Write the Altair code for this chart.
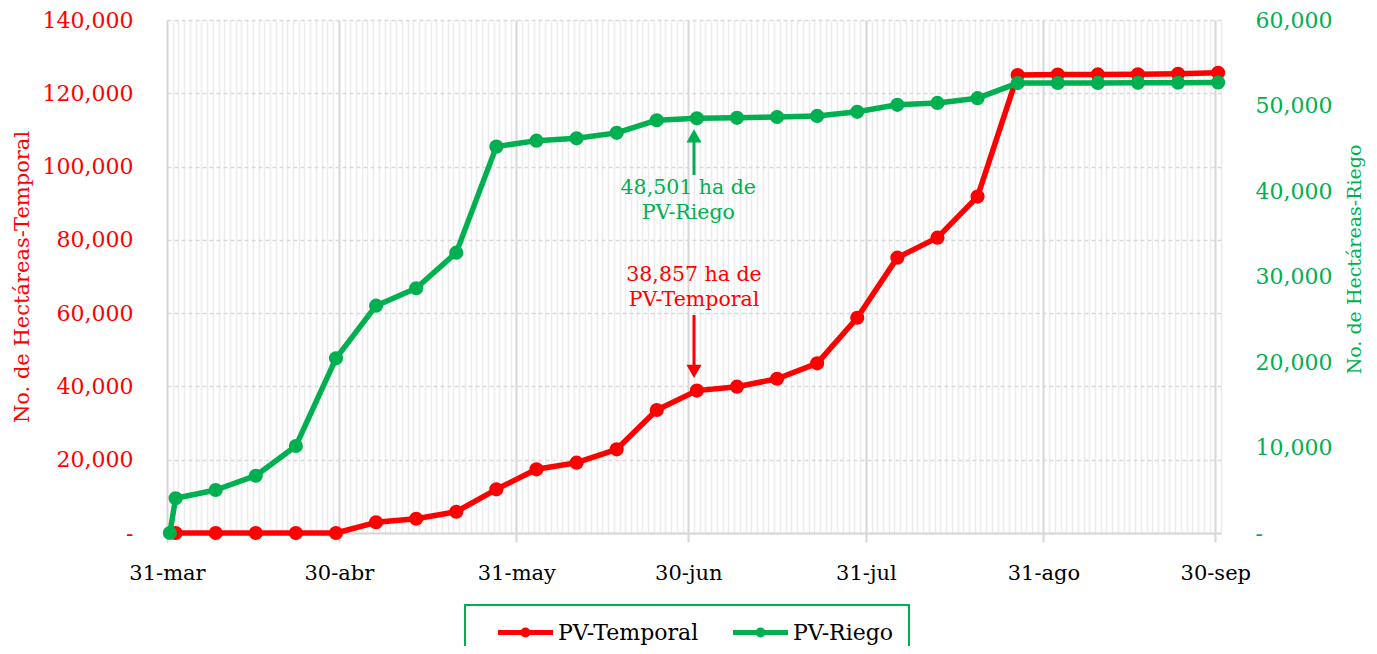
import altair as alt
import pandas as pd

# ---------------- data ----------------
fechas_temporal = [
    "2023-04-01", "2023-04-08", "2023-04-15", "2023-04-22", "2023-04-29",
    "2023-05-06", "2023-05-13", "2023-05-20", "2023-05-27",
    "2023-06-03", "2023-06-10", "2023-06-17", "2023-06-24",
    "2023-07-01", "2023-07-08", "2023-07-15", "2023-07-22", "2023-07-29",
    "2023-08-05", "2023-08-12", "2023-08-19", "2023-08-26",
    "2023-09-02", "2023-09-09", "2023-09-16", "2023-09-23", "2023-09-30",
]
pv_temporal = [
    0, 0, 0, 0, 0,
    2920, 3900, 5810, 11920,
    17380, 19190, 22840, 33570,
    38857, 39930, 42100, 46300, 58750,
    75150, 80600, 91800, 125000,
    125100, 125150, 125200, 125300, 125600,
]
fechas_riego = ["2023-03-31"] + fechas_temporal
pv_riego = [
    0,
    4060, 5030, 6700, 10180, 20430,
    26590, 28620, 32790, 45190,
    45890, 46160, 46800, 48280,
    48501, 48560, 48660, 48780, 49260,
    50080, 50300, 50860, 52620,
    52630, 52640, 52650, 52660, 52690,
]
series = ["PV-Temporal", "PV-Riego"]
ticks_izq = [0, 20000, 40000, 60000, 80000, 100000, 120000, 140000]
ticks_der = [0, 10000, 20000, 30000, 40000, 50000, 60000]
meses = ["ene", "feb", "mar", "abr", "may", "jun", "jul", "ago", "sep", "oct", "nov", "dic"]

# annotations (data units)
nota_t_texto = ["38,857 ha de", "PV-Temporal"]
nota_t_valor = [70400, 63600]
nota_t_flecha = [59500, 45600]
nota_t_punta = [44100]
nota_r_texto = ["48,501 ha de", "PV-Riego"]
nota_r_valor = [40350, 37430]
nota_r_flecha = [41870, 45900]
nota_r_punta = [46450]

ROJO = "#FF0000"
VERDE = "#00B050"
FONT = "DejaVu Serif"

df_t = pd.DataFrame({"fecha": [f + "T12:00:00" for f in fechas_temporal],
                     "valor": pv_temporal, "serie": series[0]})
df_r = pd.DataFrame({"fecha": [f + "T12:00:00" for f in fechas_riego],
                     "valor": pv_riego, "serie": series[1]})

df_t_txt = pd.DataFrame({"fecha": ["2023-07-01T00:00:00"] * 2, "valor": nota_t_valor, "texto": nota_t_texto})
df_t_fl = pd.DataFrame({"fecha": ["2023-07-01T00:00:00"], "valor": [nota_t_flecha[0]], "valor2": [nota_t_flecha[1]]})
df_t_pt = pd.DataFrame({"fecha": ["2023-07-01T00:00:00"], "valor": nota_t_punta})
df_r_txt = pd.DataFrame({"fecha": ["2023-06-30T00:00:00"] * 2, "valor": nota_r_valor, "texto": nota_r_texto})
df_r_fl = pd.DataFrame({"fecha": ["2023-07-01T00:00:00"], "valor": [nota_r_flecha[0]], "valor2": [nota_r_flecha[1]]})
df_r_pt = pd.DataFrame({"fecha": ["2023-07-01T00:00:00"], "valor": nota_r_punta})

# ---------------- encodings ----------------
MAJOR = ("(date(datum.value) == 31 || (date(datum.value) == 30 && "
         "(month(datum.value) == 3 || month(datum.value) == 5 || month(datum.value) == 8)))")
mes_arr = "[" + ",".join("'%s'" % m for m in meses) + "]"

x_axis = alt.Axis(
    title=None,
    tickCount=alt.TimeIntervalStep(interval="day", step=1),
    labelExpr=MAJOR + " ? timeFormat(datum.value, '%d') + '-' + " + mes_arr + "[month(datum.value)] : ''",
    labelOverlap=False, labelFlush=False,
    labelFont=FONT, labelFontSize=21, labelColor="#000000", labelPadding=20,
    grid=True,
    gridColor={"condition": {"test": MAJOR, "value": "#d6d6d6"}, "value": "#ececec"},
    gridWidth={"condition": {"test": MAJOR, "value": 2}, "value": 1.5},
    tickColor={"condition": {"test": MAJOR, "value": "#d6d6d6"}, "value": "transparent"},
    tickSize=9, tickWidth=2,
    domainColor="#d6d6d6", domainWidth=2,
)
x_enc = alt.X("fecha:T", axis=x_axis,
              scale=alt.Scale(domain=[alt.DateTime(year=2023, month=3, date=31),
                                      alt.DateTime(year=2023, month=10, date=1)], nice=False))

lbl = "datum.value == 0 ? '-' : format(datum.value, ',')"
y_t = alt.Y("valor:Q", scale=alt.Scale(domain=[0, 140000], nice=False),
            axis=alt.Axis(values=ticks_izq, labelExpr=lbl, orient="left",
                          title="No. de Hectáreas-Temporal", titleColor=ROJO, labelColor=ROJO,
                          titleFont=FONT, labelFont=FONT, titleFontSize=21, labelFontSize=22,
                          titleFontWeight="normal", grid=True, gridColor="#d9d9d9",
                          gridDash=[4, 3], gridWidth=1.5, domain=False, ticks=False, tickSize=0,
                          labelPadding=34, titlePadding=10))
y_r = alt.Y("valor:Q", scale=alt.Scale(domain=[0, 60000], nice=False),
            axis=alt.Axis(values=ticks_der, labelExpr=lbl, orient="right",
                          title="No. de Hectáreas-Riego", titleColor=VERDE, labelColor=VERDE,
                          titleFont=FONT, labelFont=FONT, titleFontSize=19, labelFontSize=22,
                          titleFontWeight="normal", grid=False, domain=False, ticks=False, tickSize=0,
                          labelPadding=34, titlePadding=33, titleAngle=270, titleY=239))

PATH = ("M-2.75,0L2.75,0M-0.25,0A0.25,0.25,0,1,1,0.25,0A0.25,0.25,0,1,1,-0.25,0")
color_enc = alt.Color("serie:N",
                      scale=alt.Scale(domain=series, range=[ROJO, VERDE]),
                      legend=alt.Legend(title=None, orient="none", legendX=298, legendY=585,
                                        direction="horizontal", symbolType=PATH, symbolSize=400,
                                        symbolStrokeWidth=5, symbolOffset=33,
                                        labelOffset=20, columnPadding=16,
                                        labelFont=FONT, labelFontSize=22, labelColor="#000000",
                                        strokeColor=VERDE, fillColor="white", padding=15))

linea_t = alt.Chart(df_t).mark_line(
    strokeWidth=5.5, strokeJoin="round",
    point=alt.OverlayMarkDef(filled=True, size=200, opacity=1)
).encode(x=x_enc, y=y_t, color=color_enc)

linea_r = alt.Chart(df_r).mark_line(
    strokeWidth=5.5, strokeJoin="round",
    point=alt.OverlayMarkDef(filled=True, size=200, opacity=1)
).encode(x=x_enc, y=y_r, color=color_enc)

txt_t = alt.Chart(df_t_txt).mark_text(color=ROJO, font=FONT, fontSize=20.5, align="center",
                                      baseline="middle").encode(x=x_enc, y=y_t, text="texto:N")
fl_t = alt.Chart(df_t_fl).mark_rule(color=ROJO, strokeWidth=3).encode(x=x_enc, y=y_t, y2="valor2:Q")
pt_t = alt.Chart(df_t_pt).mark_point(shape="triangle-down", filled=True, size=230, color=ROJO,
                                     opacity=1).encode(x=x_enc, y=y_t)

txt_r = alt.Chart(df_r_txt).mark_text(color=VERDE, font=FONT, fontSize=20.5, align="center",
                                      baseline="middle").encode(x=x_enc, y=y_r, text="texto:N")
fl_r = alt.Chart(df_r_fl).mark_rule(color=VERDE, strokeWidth=3).encode(x=x_enc, y=y_r, y2="valor2:Q")
pt_r = alt.Chart(df_r_pt).mark_point(shape="triangle-up", filled=True, size=230, color=VERDE,
                                     opacity=1).encode(x=x_enc, y=y_r)

capa_t = alt.layer(linea_t, fl_t, pt_t, txt_t)
capa_r = alt.layer(linea_r, fl_r, pt_r, txt_r)

chart = alt.layer(capa_t, capa_r).resolve_scale(y="independent").properties(
    width=1054, height=513,
    autosize=alt.AutoSizeParams(type="none"),
    padding={"left": 159, "top": 12, "right": 148, "bottom": 113},
    background="white",
).configure_view(stroke=None).configure_legend(strokeWidth=2)

chart.save("out.html", embed_options={"renderer": "svg", "actions": False})
